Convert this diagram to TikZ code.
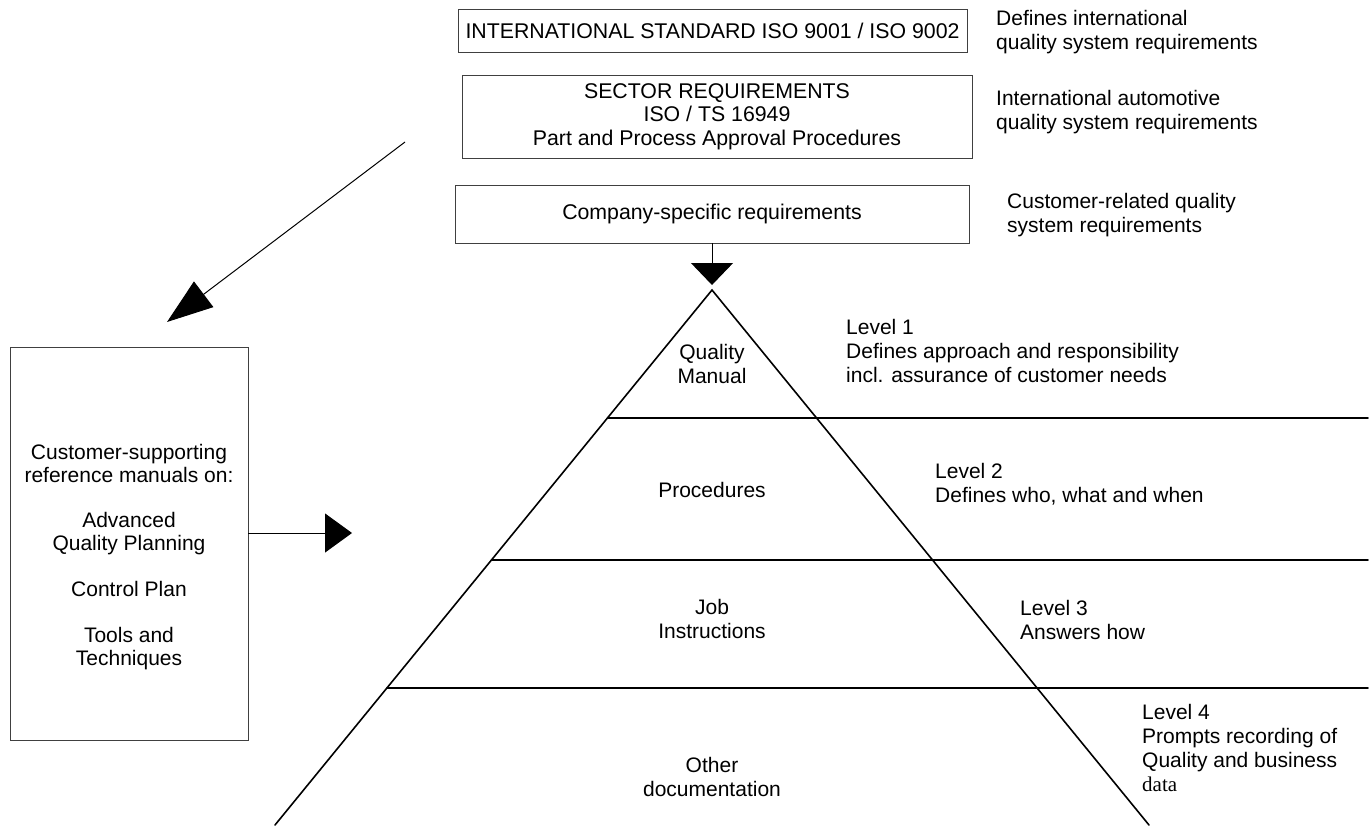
\documentclass[tikz,border=0pt]{standalone}
\usepackage{fontspec}
\setmainfont{Liberation Sans}
\newfontfamily\serifdata{Liberation Serif}
\usetikzlibrary{arrows.meta,calc}
\begin{document}
\begin{tikzpicture}[x=1pt,y=-1pt,
  every node/.style={font=\fontsize{21}{24}\selectfont},
  box/.style={draw=black!75,line width=0.9pt,inner sep=0pt,align=center,font=\fontsize{21.3}{23.5}\selectfont},
  note/.style={anchor=west,align=left,inner sep=0pt},
  lbl/.style={align=center,inner sep=0pt},
  pyr/.style={line width=1.6pt,line cap=round},
  conn/.style={line width=1pt}]
\useasboundingbox (0,0) rectangle (1371,825);

% top boxes
\node[box,minimum width=509pt,minimum height=43pt] (iso) at (712.5,31) {INTERNATIONAL STANDARD ISO 9001 / ISO 9002};
\node[box,minimum width=510pt,minimum height=83pt] (sector) at (717,116.5) {SECTOR REQUIREMENTS\\ISO / TS 16949\\Part and Process Approval Procedures};
\node[box,minimum width=514pt,minimum height=58pt] (company) at (712,214) {Company-specific requirements};

% right notes
\node[note] (n1) at (996,32) {Defines international\\quality system requirements};
\node[note] (n2) at (996,112.5) {International automotive\\quality system requirements};
\node[note] (n3) at (1007,215) {Customer-related quality\\system requirements};

% pyramid
\coordinate (apex) at (712,290);
\coordinate (baseL) at (275,825);
\coordinate (baseR) at (1149,825);
\draw[pyr] (baseL) -- (apex) -- (baseR);
\coordinate (r1) at (1368,418);
\coordinate (r2) at (1368,560);
\coordinate (r3) at (1368,688);
\draw[pyr] ($(apex)!0.2393!(baseL)$) -- (r1);
\draw[pyr] ($(apex)!0.5047!(baseL)$) -- (r2);
\draw[pyr] ($(apex)!0.7439!(baseL)$) -- (r3);

\node[lbl] (qm) at (712,363.5) {Quality\\Manual};
\node[lbl] (proc) at (712,490) {Procedures};
\node[lbl] (job) at (712,618.5) {Job\\Instructions};
\node[lbl] (other) at (712,777) {Other\\documentation};

\node[note] (l1) at (846,351) {Level 1\\Defines approach and responsibility\\incl. assurance of customer needs};
\node[note] (l2) at (935,484.5) {Level 2\\Defines who, what and when};
\node[note] (l3) at (1020,620) {Level 3\\Answers how};
\node[note] (l4) at (1142,747.5) {Level 4\\Prompts recording of\\Quality and business\\{\serifdata data}};

% left box
\node[box,minimum width=238pt,minimum height=393pt] (manuals) at (129,543.5) {};
\node[lbl,font=\fontsize{21}{23}\selectfont] (manualstext) at (129,557) {Customer-supporting\\reference manuals on:\\[22pt]Advanced\\Quality Planning\\[23pt]Control Plan\\[23pt]Tools and\\Techniques};

% connectors
\coordinate (tipA) at (712,285);
\draw[conn,-{Triangle[length=22pt,width=42pt]}] (company.south) -- (tipA);
\coordinate (diagStart) at (405,142);
\coordinate (diagTip) at (167,322);
\draw[conn,-{Triangle[length=46pt,width=32pt]}] (diagStart) -- (diagTip);
\coordinate (hTip) at (352,533);
\draw[conn,-{Triangle[length=27pt,width=39pt]}] (manuals.east |- hTip) -- (hTip);
\end{tikzpicture}
\end{document}
